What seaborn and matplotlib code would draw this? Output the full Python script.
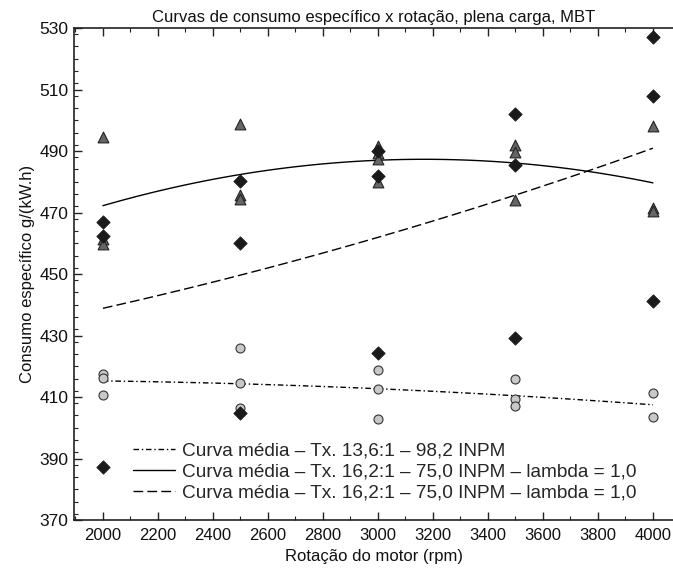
import numpy as np
import pandas as pd
import matplotlib
matplotlib.use("Agg")
import matplotlib.pyplot as plt
from matplotlib.ticker import MultipleLocator
import seaborn as sns

# Specific fuel consumption measurements, g/(kW.h), per engine speed (rpm)
rpm_e100 = [2000, 2000, 2000, 2500, 2500, 2500, 3000, 3000, 3000,
            3500, 3500, 3500, 4000, 4000]
bsfc_e100 = [417.5, 416.3, 410.6, 426.0, 414.4, 406.3, 418.8, 412.6, 403.0,
             415.9, 409.4, 407.0, 411.4, 403.6]

rpm_e75_tri = [2000, 2000, 2000, 2500, 2500, 2500, 3000, 3000, 3000, 3000,
               3500, 3500, 3500, 4000, 4000, 4000]
bsfc_e75_tri = [494.5, 461.5, 459.7, 498.8, 475.7, 474.4, 491.5, 489.5, 487.5, 480.0,
                492.0, 489.8, 474.0, 498.1, 471.4, 470.6]

rpm_e75_dia = [2000, 2000, 2000, 2500, 2500, 2500, 3000, 3000, 3000,
               3500, 3500, 3500, 4000, 4000, 4000]
bsfc_e75_dia = [467.0, 462.3, 387.3, 480.4, 460.2, 404.7, 490.0, 482.0, 424.3,
                502.1, 485.4, 429.1, 527.0, 507.9, 441.3]

legend_labels = [
    "Curva média – Tx. 13,6:1 – 98,2 INPM",
    "Curva média – Tx. 16,2:1 – 75,0 INPM – lambda = 1,0",
    "Curva média – Tx. 16,2:1 – 75,0 INPM – lambda = 1,0",
]
x_ticks = list(range(2000, 4001, 200))
y_ticks = list(range(370, 531, 20))

df_c = pd.DataFrame({"rpm": rpm_e100, "bsfc": bsfc_e100})
df_t = pd.DataFrame({"rpm": rpm_e75_tri, "bsfc": bsfc_e75_tri})
df_d = pd.DataFrame({"rpm": rpm_e75_dia, "bsfc": bsfc_e75_dia})

sns.set_theme(style="ticks")
plt.rcParams["font.family"] = ["Liberation Sans", "DejaVu Sans"]
plt.rcParams["font.size"] = 12

fig = plt.figure(figsize=(6.73, 5.79), dpi=100)
ax = fig.add_axes([0.110, 0.1019, 0.890, 0.8497])

# Quadratic mean curves
line_styles = [(0, (4, 2, 1, 2)), "-", (0, (7, 3))]
curve_lines = []
for df, ls in zip([df_c, df_t, df_d], line_styles):
    n_before = len(ax.lines)
    sns.regplot(data=df, x="rpm", y="bsfc", order=2, ci=None, scatter=False, ax=ax,
                line_kws=dict(color="black", lw=1.0, ls=ls))
    curve_lines.append(ax.lines[n_before])

# Measured points
sns.scatterplot(data=df_c, x="rpm", y="bsfc", marker="o", s=42, color="#c8c8c8",
                edgecolor="#333333", linewidth=0.8, ax=ax, zorder=3, legend=False)
sns.scatterplot(data=df_t, x="rpm", y="bsfc", marker="^", s=60, color="#666666",
                edgecolor="#222222", linewidth=0.8, ax=ax, zorder=3, legend=False)
sns.scatterplot(data=df_d, x="rpm", y="bsfc", marker="D", s=46, color="#1a1a1a",
                edgecolor="#1a1a1a", linewidth=0.6, ax=ax, zorder=4, legend=False)

ax.set_xlim(1895, 4073)
ax.set_ylim(370, 530)
ax.set_xticks(x_ticks)
ax.set_yticks(y_ticks)
ax.xaxis.set_minor_locator(MultipleLocator(100))
ax.yaxis.set_minor_locator(MultipleLocator(4))
ax.tick_params(which="both", direction="in", top=True, right=False, colors="#222222",
               labelcolor="#111111", labelsize=12)
ax.tick_params(axis="y", labelsize=12.5)
ax.tick_params(which="major", length=6, width=1.0)
ax.tick_params(which="minor", length=3, width=0.8)
ax.tick_params(axis="x", pad=6)
ax.tick_params(axis="y", pad=4)

for side in ["left", "top", "bottom"]:
    ax.spines[side].set_color("#222222")
    ax.spines[side].set_linewidth(1.2)
ax.spines["right"].set_visible(False)

ax.set_xlabel("Rotação do motor (rpm)", fontsize=12, color="#111111", labelpad=4)
ax.set_ylabel("Consumo específico g/(kW.h)", fontsize=12, color="#111111", labelpad=3)
ax.set_title("Curvas de consumo específico x rotação, plena carga, MBT",
             fontsize=12, color="#111111", pad=4)

ax.legend(curve_lines, legend_labels, loc="lower left", bbox_to_anchor=(0.0985, 0.037),
          frameon=False, borderaxespad=0, borderpad=0, handlelength=2.2,
          handletextpad=0.37, labelspacing=0.2, fontsize=13.7)

fig.savefig("out.png", dpi=100)
